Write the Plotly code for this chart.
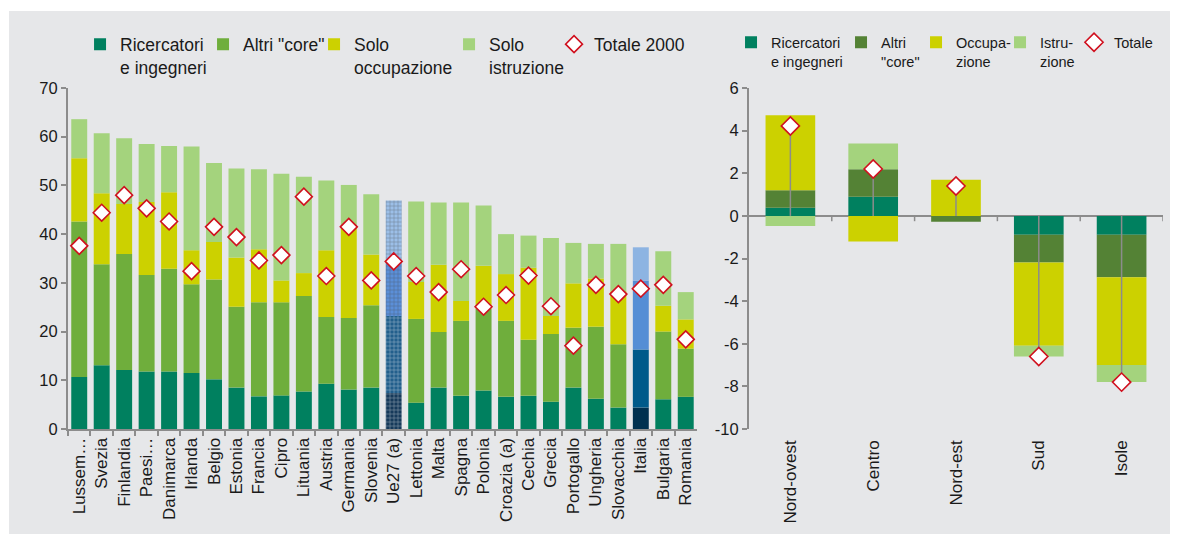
import plotly.graph_objects as go

# ---------------- data (left panel) ----------------
countries = ["Lussem…", "Svezia", "Finlandia", "Paesi…", "Danimarca", "Irlanda", "Belgio",
             "Estonia", "Francia", "Cipro", "Lituania", "Austria", "Germania", "Slovenia",
             "Ue27 (a)", "Lettonia", "Malta", "Spagna", "Polonia", "Croazia (a)", "Cechia",
             "Grecia", "Portogallo", "Ungheria", "Slovacchia", "Italia", "Bulgaria", "Romania"]
ricercatori = [10.7, 13.1, 12.1, 11.8, 11.8, 11.5, 10.2, 8.5, 6.7, 6.9, 7.7, 9.3, 8.1, 8.5,
               7.4, 5.4, 8.5, 6.8, 7.9, 6.6, 6.8, 5.6, 8.5, 6.2, 4.4, 4.4, 6.1, 6.6]
altri_core = [31.9, 20.7, 23.8, 19.8, 21.1, 18.2, 20.5, 16.6, 19.3, 19.1, 19.6, 13.7, 14.7, 16.9,
              15.8, 17.2, 11.4, 15.4, 16.8, 15.6, 11.5, 13.9, 12.3, 14.8, 13.0, 11.9, 13.9, 9.9]
solo_occupazione = [13.0, 14.6, 10.3, 15.0, 15.7, 7.0, 7.7, 10.1, 10.9, 4.5, 4.7, 13.7, 18.7, 10.4,
                    11.0, 7.6, 13.8, 4.1, 8.8, 9.6, 14.8, 3.7, 9.1, 9.9, 10.9, 14.2, 5.3, 6.0]
solo_istruzione = [8.0, 12.3, 13.5, 11.9, 9.5, 21.3, 16.2, 18.3, 16.4, 21.9, 19.8, 14.3, 8.6, 12.4,
                   12.7, 16.5, 12.8, 20.2, 12.4, 8.2, 6.6, 16.0, 8.3, 7.1, 9.7, 6.8, 11.2, 5.6]
totale_2000 = [37.6, 44.4, 48.0, 45.3, 42.6, 32.4, 41.5, 39.4, 34.6, 35.7, 47.7, 31.4, 41.5, 30.5,
               34.4, 31.4, 28.1, 32.8, 25.1, 27.5, 31.5, 25.2, 17.1, 29.6, 27.7, 28.8, 29.6, 18.4]

# ---------------- data (right panel) ----------------
regions = ["Nord-ovest", "Centro", "Nord-est", "Sud", "Isole"]
r_ricercatori = [0.38, 0.90, 0.0, -0.88, -0.88]
r_core = [0.82, 1.29, -0.28, -1.31, -2.00]
r_occupazione = [3.52, -1.20, 1.70, -3.90, -4.12]
r_istruzione = [-0.48, 1.21, 0.0, -0.51, -0.80]
r_totale = [4.22, 2.20, 1.40, -6.60, -7.80]

left_yticks = [0, 10, 20, 30, 40, 50, 60, 70]
right_yticks = [6, 4, 2, 0, -2, -4, -6, -8, -10]

# ---------------- styles ----------------
FONT = "Liberation Sans, Arial, sans-serif"
TXT = "#1a1a1a"
AX = "#8c8c8c"
BG = "#e6e7e9"
C_RIC = "#00805f"
C_CORE = "#6fae3c"
C_CORE_R = "#548235"
C_OCC = "#ccd100"
C_ISTR = "#a4d37d"
RED = "#d0101e"

ue_idx = countries.index("Ue27 (a)")
it_idx = countries.index("Italia")
special = {
    "ric": ("#163a5a", "#00304f"),
    "core": ("#225f8c", "#005a8a"),
    "occ": ("#5b8fd8", "#558ed5"),
    "istr": ("#9cbfe8", "#8db4e2"),
}


def colors(base, key):
    cols = [base] * len(countries)
    cols[ue_idx] = special[key][0]
    cols[it_idx] = special[key][1]
    return cols


pattern_shapes = [""] * len(countries)
pattern_shapes[ue_idx] = "+"

fig = go.Figure()

left_series = [
    ("Ricercatori<br>e ingegneri", ricercatori, C_RIC, "ric", 78),
    ("Altri \"core\"", altri_core, C_CORE, "core", 66),
    ("Solo<br>occupazione", solo_occupazione, C_OCC, "occ", 90),
    ("Solo<br>istruzione", solo_istruzione, C_ISTR, "istr", 60),
]
for name, vals, col, key, lw in left_series:
    fig.add_trace(go.Bar(
        x=countries, y=vals, name=name, width=0.71,
        marker=dict(color=colors(col, key), line=dict(width=0),
                    pattern=dict(shape=pattern_shapes, fgcolor="rgba(255,255,255,0.35)",
                                 size=4, solidity=0.25, fillmode="overlay")),
        xaxis="x", yaxis="y", legend="legend", legendwidth=lw,
    ))

fig.add_trace(go.Scatter(
    x=countries, y=totale_2000, name="Totale 2000", mode="markers",
    marker=dict(symbol="diamond", size=13, color="white", line=dict(color=RED, width=1.6)),
    xaxis="x", yaxis="y", legend="legend", legendwidth=100,
))

right_series = [
    ("Ricercatori<br>e ingegneri", r_ricercatori, C_RIC, 65),
    ("Altri<br>\"core\"", r_core, C_CORE_R, 30),
    ("Occupa-<br>zione", r_occupazione, C_OCC, 39),
    ("Istru-<br>zione", r_istruzione, C_ISTR, 29),
]
for name, vals, col, lw in right_series:
    fig.add_trace(go.Bar(
        x=regions, y=vals, name=name, width=0.6,
        marker=dict(color=col, line=dict(width=0)),
        xaxis="x2", yaxis="y2", legend="legend2", legendwidth=lw,
    ))

fig.add_trace(go.Scatter(
    x=regions, y=r_totale, name="Totale", mode="markers",
    marker=dict(symbol="diamond", size=14, color="white", line=dict(color=RED, width=1.6)),
    error_y=dict(type="data", symmetric=False,
                 array=[max(-v, 0) for v in r_totale],
                 arrayminus=[max(v, 0) for v in r_totale],
                 color=AX, thickness=1.5, width=0),
    xaxis="x2", yaxis="y2", legend="legend2", legendwidth=40,
))

# tick marks on the zero line of the right panel (category boundaries)
shapes = [dict(type="rect", xref="paper", yref="paper", x0=-0.0539, x1=1.0064,
               y0=-0.308, y1=1.226, fillcolor=BG, line=dict(width=0), layer="below")]
for i in range(len(regions)):
    shapes.append(dict(type="line", xref="x2", yref="y2", x0=i + 0.5, x1=i + 0.5,
                       y0=0, y1=-0.25, line=dict(color=AX, width=1.5)))

fig.update_layout(
    width=1171, height=531,
    margin=dict(l=60, r=16, t=80, b=110, autoexpand=False),
    paper_bgcolor="white", plot_bgcolor="rgba(0,0,0,0)",
    barmode="relative",
    font=dict(family=FONT, color=TXT, size=17),
    shapes=shapes,
    showlegend=True,
    legend=dict(orientation="h", x=0.011, xanchor="left", y=1.181, yanchor="top",
                bgcolor="rgba(0,0,0,0)", font=dict(size=17.5, family=FONT, color=TXT),
                valign="top", itemwidth=30, traceorder="normal", itemclick=False),
    legend2=dict(orientation="h", x=0.6055, xanchor="left", y=1.181, yanchor="top",
                 bgcolor="rgba(0,0,0,0)", font=dict(size=14.5, family=FONT, color=TXT),
                 valign="top", itemwidth=30, traceorder="normal", itemclick=False),
    xaxis=dict(domain=[0, 0.5744], type="category", range=[-0.5, len(countries) - 0.5],
               tickangle=-90, showline=True,
               linecolor=AX, linewidth=2, ticks="outside", tickson="boundaries",
               ticklen=5, tickcolor=AX, tickwidth=1.5, showgrid=False,
               tickfont=dict(size=17), anchor="y", automargin=False),
    yaxis=dict(range=[0, 70], tickvals=left_yticks, ticktext=[str(v) for v in left_yticks],
               showline=True, linecolor=AX, linewidth=2, ticks="outside", ticklen=5,
               tickcolor=AX, tickwidth=1.5, showgrid=False, zeroline=False,
               tickfont=dict(size=16.5), anchor="x", automargin=False),
    xaxis2=dict(domain=[0.6219, 1], type="category", range=[-0.5, len(regions) - 0.5],
                tickangle=-90, showline=False, ticklabelstandoff=7,
                ticks="", showgrid=False, tickfont=dict(size=17), anchor="y2",
                automargin=False),
    yaxis2=dict(range=[-10, 6], tickvals=right_yticks, ticktext=[str(v) for v in right_yticks],
                showline=True, linecolor=AX, linewidth=2, ticks="outside", ticklen=5,
                tickcolor=AX, tickwidth=1.5, showgrid=False, zeroline=True,
                zerolinecolor=AX, zerolinewidth=2, tickfont=dict(size=16.5), anchor="x2",
                automargin=False),
)

fig.write_html("out.html")
